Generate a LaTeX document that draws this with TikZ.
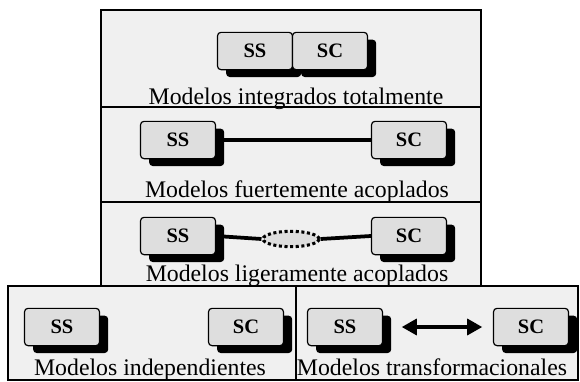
\documentclass[tikz,border=0pt]{standalone}
\usepackage{fontspec}
\setmainfont{Liberation Serif}
\usetikzlibrary{arrows.meta, positioning, shadows, shapes.geometric}
\definecolor{panel}{RGB}{240, 240, 240}
\definecolor{boxfill}{RGB}{222, 222, 222}

\tikzset{
  sysbox/.style={draw=black, line width=1pt, fill=boxfill, rounded corners=3pt,
    minimum width=2.25cm, minimum height=1.12cm, inner sep=0pt,
    font=\fontsize{17.5}{19}\selectfont\bfseries,
    drop shadow={shadow xshift=0.26cm, shadow yshift=-0.22cm, fill=black, opacity=1}},
  caption/.style={font=\fontsize{20.3}{23}\selectfont, inner sep=0pt, anchor=base},
  link/.style={line width=3.2pt},
}

\begin{document}
\begin{tikzpicture}[x=0.03cm, y=-0.03cm]
                \useasboundingbox (0, 0) rectangle (580, 381);
                % Stacked panels on top, two panels side by side below
                \filldraw[fill=panel, draw=black, line width=1.4pt] (101, 10) rectangle (481, 286);
                \draw[line width=1.2pt] (101, 107) -- (481, 107);
                \draw[line width=1.2pt] (101, 202) -- (481, 202);
                \filldraw[fill=panel, draw=black, line width=1.2pt] (8, 286) rectangle (578, 380);
                \draw[line width=1.2pt] (296, 286) -- (296, 380);

                % Integrated
                \node[sysbox] (ss1) at (255, 51) {SS};
                \node[sysbox] (sc1) at (330, 51) {SC};
                \node[caption] (cap1) at (296, 104) {Modelos integrados totalmente};

                % Tightly coupled
                \node[sysbox] (ss2) at (178, 140) {SS};
                \node[sysbox] (sc2) at (409, 140) {SC};
                \draw[link] (ss2.east) -- (sc2.west);
                \node[caption] (cap2) at (297, 197) {Modelos fuertemente acoplados};

                % Loosely coupled
                \node[sysbox] (ss3) at (178, 236) {SS};
                \node[sysbox] (sc3) at (409, 236) {SC};
                \node[ellipse, draw=black, fill=boxfill, line width=2.6pt, dash pattern=on 2.6pt off 2.2pt,
                  minimum width=1.68cm, minimum height=0.46cm] (gate) at (291, 239) {};
                \draw[link] (ss3.east) -- (gate.west);
                \draw[link] (gate.east) -- (sc3.west);
                \node[caption] (cap3) at (297, 281) {Modelos ligeramente acoplados};

                % Independent
                \node[sysbox] (ss4) at (62, 327) {SS};
                \node[sysbox] (sc4) at (246, 327) {SC};
                \node[caption] (cap4) at (150, 375) {Modelos independientes};

                % Transformational
                \node[sysbox] (ss5) at (345, 327) {SS};
                \node[sysbox] (sc5) at (531, 327) {SC};
                \draw[line width=2.8pt, {Triangle[length=0.45cm, width=0.48cm]}-{Triangle[length=0.45cm, width=0.48cm]},
                  shorten <=0.56cm, shorten >=0.32cm] (ss5.east) -- (sc5.west);
                \node[caption] (cap5) at (432, 375) {Modelos transformacionales};
            \end{tikzpicture}
\end{document}
